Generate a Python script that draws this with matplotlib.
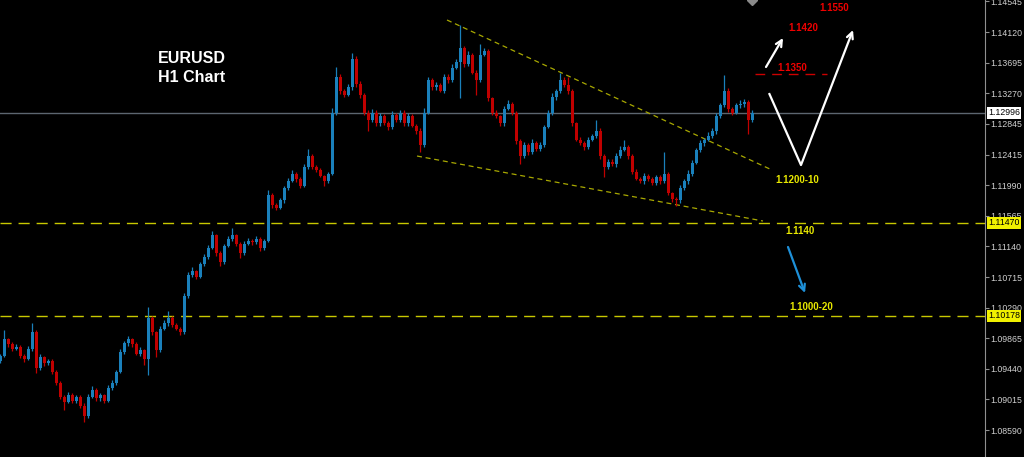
import matplotlib
matplotlib.use("Agg")
import matplotlib.pyplot as plt
import numpy as np

# EURUSD H1 closes, one per candle (opens = previous close)
first_open = 1.0955
closes = [
    1.0962, 1.0985, 1.0978, 1.0972, 1.0975, 1.0962, 1.0958, 1.0972, 1.0995, 1.0945,
    1.0960, 1.0952, 1.0955, 1.0940, 1.0925, 1.0905, 1.0898, 1.0908, 1.0900, 1.0905,
    1.0893, 1.0878, 1.0905, 1.0915, 1.0903, 1.0907, 1.0900, 1.0918, 1.0925, 1.0940,
    1.0968, 1.0980, 1.0985, 1.0978, 1.0965, 1.0970, 1.0958, 1.1015, 1.0995, 1.0970,
    1.1000, 1.1008, 1.1015, 1.1005, 1.1000, 1.0995, 1.1045, 1.1075, 1.1080, 1.1072,
    1.1090, 1.1100, 1.1112, 1.1130, 1.1105, 1.1092, 1.1115, 1.1125, 1.1130, 1.1118,
    1.1105, 1.1118, 1.1122, 1.1120, 1.1125, 1.1112, 1.1122, 1.1185, 1.1172, 1.1168,
    1.1178, 1.1195, 1.1205, 1.1215, 1.1208, 1.1198, 1.1225, 1.1240, 1.1225, 1.1220,
    1.1212, 1.1205, 1.1215, 1.1300, 1.1350, 1.1330, 1.1325, 1.1335, 1.1375, 1.1340,
    1.1325, 1.1300, 1.1290, 1.1300, 1.1285, 1.1295, 1.1285, 1.1280, 1.1297, 1.1290,
    1.1300, 1.1285, 1.1295, 1.1282, 1.1275, 1.1255, 1.1300, 1.1345, 1.1335, 1.1338,
    1.1330, 1.1350, 1.1345, 1.1362, 1.1370, 1.1390, 1.1368, 1.1380, 1.1355, 1.1345,
    1.1380, 1.1385, 1.1320, 1.1300, 1.1295, 1.1285, 1.1305, 1.1312, 1.1300, 1.1260,
    1.1240, 1.1255, 1.1245, 1.1258, 1.1250, 1.1255, 1.1280, 1.1300, 1.1322, 1.1330,
    1.1345, 1.1338, 1.1330, 1.1285, 1.1262, 1.1258, 1.1252, 1.1262, 1.1268, 1.1275,
    1.1240, 1.1225, 1.1232, 1.1228, 1.1240, 1.1248, 1.1252, 1.1240, 1.1218, 1.1208,
    1.1205, 1.1212, 1.1208, 1.1202, 1.1210, 1.1205, 1.1215, 1.1188, 1.1180, 1.1178,
    1.1195, 1.1205, 1.1215, 1.1230, 1.1248, 1.1258, 1.1262, 1.1268, 1.1275, 1.1295,
    1.1310, 1.1330, 1.1305, 1.1300, 1.1310, 1.1312, 1.1315, 1.1290, 1.1300,
]

# wick lengths beyond the body, in pips
wick_up = [
    3, 13, 2, 3, 4, 2, 3, 4, 13, 3, 4, 2, 3, 2, 3, 2, 3, 4, 2, 3,
    2, 3, 4, 5, 2, 3, 2, 4, 3, 3, 4, 3, 5, 2, 3, 4, 2, 15, 3, 2,
    3, 4, 10, 2, 3, 2, 4, 3, 5, 2, 3, 3, 4, 5, 2, 3, 3, 4, 10, 2,
    2, 3, 4, 3, 3, 2, 3, 7, 3, 2, 4, 3, 4, 5, 2, 3, 4, 10, 3, 2,
    3, 2, 3, 6, 13, 4, 3, 5, 8, 3, 4, 2, 3, 5, 3, 4, 3, 4, 5, 3,
    4, 3, 4, 3, 2, 3, 6, 4, 3, 5, 3, 4, 3, 5, 4, 32, 3, 5, 3, 4,
    15, 5, 3, 2, 3, 2, 4, 5, 3, 2, 3, 4, 3, 5, 3, 4, 3, 4, 5, 3,
    10, 4, 12, 3, 2, 4, 3, 4, 3, 15, 3, 2, 4, 3, 4, 5, 10, 3, 2, 3,
    3, 4, 3, 2, 4, 3, 30, 3, 2, 3, 4, 3, 5, 4, 3, 4, 3, 5, 4, 5,
    4, 22, 4, 3, 4, 5, 4, 3, 4,
]
wick_dn = [
    3, 2, 4, 3, 2, 3, 5, 2, 3, 7, 3, 4, 2, 3, 4, 3, 11, 2, 4, 3,
    3, 8, 3, 2, 4, 3, 3, 2, 3, 4, 2, 3, 4, 3, 2, 3, 8, 23, 4, 10,
    3, 2, 4, 3, 2, 4, 3, 2, 4, 3, 2, 3, 4, 2, 4, 5, 3, 2, 3, 4,
    7, 3, 2, 4, 3, 4, 3, 2, 4, 3, 2, 4, 3, 2, 4, 3, 2, 3, 4, 3,
    2, 7, 3, 2, 3, 4, 3, 2, 3, 4, 5, 3, 15, 3, 4, 3, 2, 4, 3, 3,
    3, 4, 3, 2, 4, 10, 3, 2, 4, 3, 2, 3, 4, 3, 2, 50, 4, 3, 2, 20,
    3, 2, 4, 3, 2, 4, 3, 2, 3, 4, 12, 3, 4, 2, 3, 4, 3, 2, 3, 4,
    3, 2, 4, 3, 2, 3, 4, 3, 2, 3, 4, 15, 3, 2, 4, 3, 2, 4, 3, 2,
    3, 4, 3, 2, 3, 4, 3, 2, 4, 8, 3, 2, 4, 3, 2, 3, 4, 2, 3, 4,
    3, 2, 4, 3, 2, 3, 4, 20, 3,
]

price_ticks = [1.14545, 1.14120, 1.13695, 1.13270, 1.12845, 1.12415, 1.11990, 1.11565,
               1.11140, 1.10715, 1.10290, 1.09865, 1.09440, 1.09015, 1.08590]
last_price = 1.12996
support_lines = [1.11470, 1.10178]
target_line = 1.13536

# wedge trend lines: (candle index, price) end points
upper_wedge = ([111.75, 193.0], [1.14287, 1.12203])
lower_wedge = ([104.25, 190.75], [1.12397, 1.11494])

BULL = "#1a80bb"
BEAR = "#c00000"
YELLOW = "#c8c800"

closes = np.array(closes)
opens = np.concatenate([[first_open], closes[:-1]])
highs = np.maximum(opens, closes) + np.array(wick_up) / 10000
lows = np.minimum(opens, closes) - np.array(wick_dn) / 10000
idx = np.arange(len(closes))
up = closes >= opens
cols = np.where(up, BULL, BEAR)

fig = plt.figure(figsize=(10.24, 4.57), dpi=100, facecolor="black")
ax = fig.add_axes([0, 0, 985 / 1024, 1])
ax.set_facecolor("black")

# horizontal levels
ax.axhline(last_price, color="#5c6670", lw=1, zorder=1)
for lv in support_lines:
    ax.axhline(lv, color=YELLOW, lw=1, dashes=(8, 5), zorder=1)
ax.plot(*upper_wedge, color="#a8a800", lw=0.9, dashes=(4, 3), zorder=1)
ax.plot(*lower_wedge, color="#a8a800", lw=0.9, dashes=(4, 3), zorder=1)

# candles
ax.vlines(idx, lows, highs, colors=cols, lw=0.9, zorder=2)
ax.bar(idx, closes - opens, bottom=opens, width=0.75, color=cols, lw=0, zorder=3)

# red target level
ax.plot([188.75, 206.75], [target_line, target_line], color="#cc0000", lw=1, dashes=(7, 5))

# scenario arrows
arr_w = dict(arrowstyle="->,head_length=0.45,head_width=0.22", color="white", lw=1.6,
             shrinkA=0, shrinkB=0)
ax.annotate("", xy=(195.75, 1.14037), xytext=(191.5, 1.13634), arrowprops=arr_w)
ax.plot([192.25, 200.25], [1.13272, 1.12272], color="white", lw=1.6, solid_capstyle="butt")
ax.annotate("", xy=(213.25, 1.14148), xytext=(200.25, 1.12272), arrowprops=arr_w)
arr_b = dict(arr_w, color="#1e90d8")
ax.annotate("", xy=(201.25, 1.10494), xytext=(197.0, 1.11133), arrowprops=arr_b)

lbl = dict(fontsize=7, fontweight="bold", family="Liberation Sans", ha="center", va="center")
ax.text(198.0, 1.13620, "1.1350", color="#ee0000", **lbl)
ax.text(200.75, 1.14176, "1.1420", color="#ee0000", **lbl)
ax.text(208.5, 1.14453, "1.1550", color="#ee0000", **lbl)
ax.text(199.25, 1.12064, "1.1200-10", color="#e8e800", **lbl)
ax.text(200.0, 1.11355, "1.1140", color="#e8e800", **lbl)
ax.text(202.75, 1.10299, "1.1000-20", color="#e8e800", **lbl)

ax.text(0.1604, 0.871, "EURUSD", transform=ax.transAxes, color="white", fontsize=11.5,
        fontweight="bold", family="Liberation Sans", ha="left", va="center")
ax.text(0.1604, 0.8315, "H1 Chart", transform=ax.transAxes, color="white", fontsize=11.5,
        fontweight="bold", family="Liberation Sans", ha="left", va="center")

# chart shift marker
ax.plot([188], [1.14565], marker="D", color="#8a8a8a", ms=5, clip_on=False)

ax.set_xlim(0, 246.25)
ax.set_ylim(1.08215, 1.14565)

# price scale on the right
for s in ["top", "left", "bottom"]:
    ax.spines[s].set_visible(False)
ax.spines["right"].set_color("#909090")
ax.set_xticks([])
ax.set_yticks(price_ticks)
ax.set_yticklabels(["%.5f" % p for p in price_ticks])
ax.tick_params(axis="y", left=False, labelleft=False, right=True, labelright=True,
               colors="#909090", labelcolor="#d0d0d0", labelsize=6.3, length=3, pad=1)
for t in ax.get_yticklabels():
    t.set_family("Liberation Sans")

ytr = ax.get_yaxis_transform()
box = dict(fontsize=6.3, family="Liberation Sans", ha="left", va="center", transform=ytr)
ax.text(1.003, last_price, "%.5f" % last_price, color="black",
        bbox=dict(boxstyle="square,pad=0.15", fc="white", ec="none"), **box)
for lv in support_lines:
    ax.text(1.003, lv, "%.5f" % lv, color="black",
            bbox=dict(boxstyle="square,pad=0.15", fc="#f0f000", ec="none"), **box)

fig.savefig("out.png", dpi=100, facecolor="black")
